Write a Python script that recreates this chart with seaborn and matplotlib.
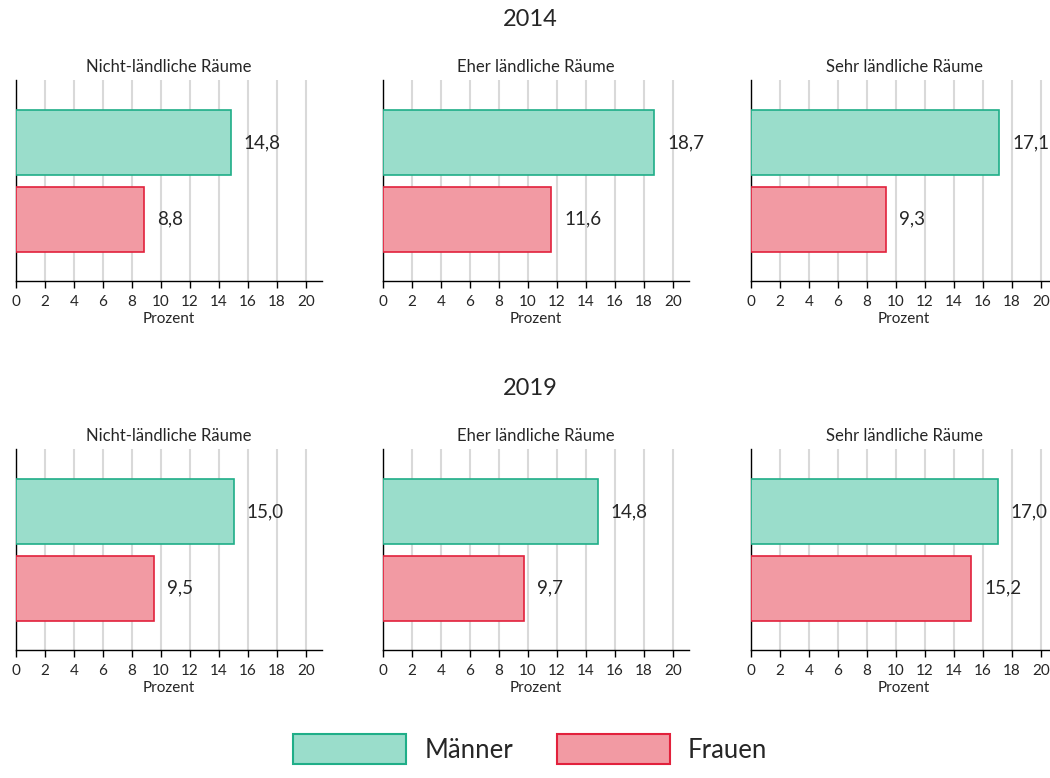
import pandas as pd
import matplotlib.pyplot as plt
import seaborn as sns
from matplotlib.patches import Patch

sns.set_theme(style="white")
plt.rcParams['font.family'] = ['Lato', 'DejaVu Sans']

# Daten
jahre = ["2014", "2019"]
raeume = ["Nicht-ländliche Räume", "Eher ländliche Räume", "Sehr ländliche Räume"]
geschlechter = ["Männer", "Frauen"]
maenner = {"2014": [14.8, 18.7, 17.1], "2019": [15.0, 14.8, 17.0]}
frauen = {"2014": [8.8, 11.6, 9.3], "2019": [9.5, 9.7, 15.2]}

fill_farben = {"Männer": "#9ADDCB", "Frauen": "#F29AA3"}
rand_farben = {"Männer": "#1FAE88", "Frauen": "#E2213C"}

rows = []
for j in jahre:
    for i, r in enumerate(raeume):
        rows.append({"jahr": j, "raum": r, "geschlecht": "Männer", "wert": maenner[j][i]})
        rows.append({"jahr": j, "raum": r, "geschlecht": "Frauen", "wert": frauen[j][i]})
df = pd.DataFrame(rows)

fig = plt.figure(figsize=(10.5, 7.78), dpi=100)

lefts = [16 / 1050, 383 / 1050, 751 / 1050]
breite = 306 / 1050
bottoms = [1 - 281 / 778, 1 - 650 / 778]
hoehe = 201 / 778
year_y = [1 - 20 / 778, 1 - 388 / 778]

for ri, j in enumerate(jahre):
    fig.text(0.505, year_y[ri], j, ha="center", va="center", fontsize=17)
    for ci, r in enumerate(raeume):
        ax = fig.add_axes([lefts[ci], bottoms[ri], breite, hoehe])
        sub = df[(df["jahr"] == j) & (df["raum"] == r)]
        sns.barplot(data=sub, y="geschlecht", x="wert", hue="geschlecht",
                    order=geschlechter, hue_order=geschlechter,
                    palette=fill_farben, saturation=1, orient="h", width=0.85,
                    legend=False, ax=ax, zorder=3)
        for patch, g in zip(ax.patches, geschlechter):
            patch.set_edgecolor(rand_farben[g])
            patch.set_linewidth(1.2)
        for k, g in enumerate(geschlechter):
            v = sub[sub["geschlecht"] == g]["wert"].iloc[0]
            ax.text(v + 0.9, k, f"{v:.1f}".replace(".", ","),
                    va="center", ha="left", fontsize=13.5)
        ax.set_xlim(0, 21.1)
        ax.set_ylim(1.81, -0.82)
        ax.set_xticks(range(0, 21, 2))
        ax.set_yticks([])
        ax.set_ylabel("")
        ax.set_xlabel("Prozent", fontsize=11, labelpad=2)
        ax.tick_params(axis="x", labelsize=11, length=5, width=1, color="black",
                       bottom=True, pad=5)
        ax.xaxis.grid(True, color="#d9d9d9", linewidth=1.5, zorder=0)
        ax.set_axisbelow(True)
        for s in ["top", "right"]:
            ax.spines[s].set_visible(False)
        for s in ["left", "bottom"]:
            ax.spines[s].set_color("black")
            ax.spines[s].set_linewidth(1)
        ax.set_title(r, fontsize=12, pad=6)

handles = [Patch(facecolor=fill_farben[g], edgecolor=rand_farben[g], linewidth=1.5, label=g)
           for g in geschlechter]
fig.legend(handles=handles, loc="lower center", bbox_to_anchor=(0.505, 0.0),
           ncol=2, frameon=False, fontsize=18.5, handlelength=4.4, handleheight=1.4,
           handletextpad=0.7, columnspacing=1.7, borderpad=0.05)

fig.savefig("out.png", dpi=100)
